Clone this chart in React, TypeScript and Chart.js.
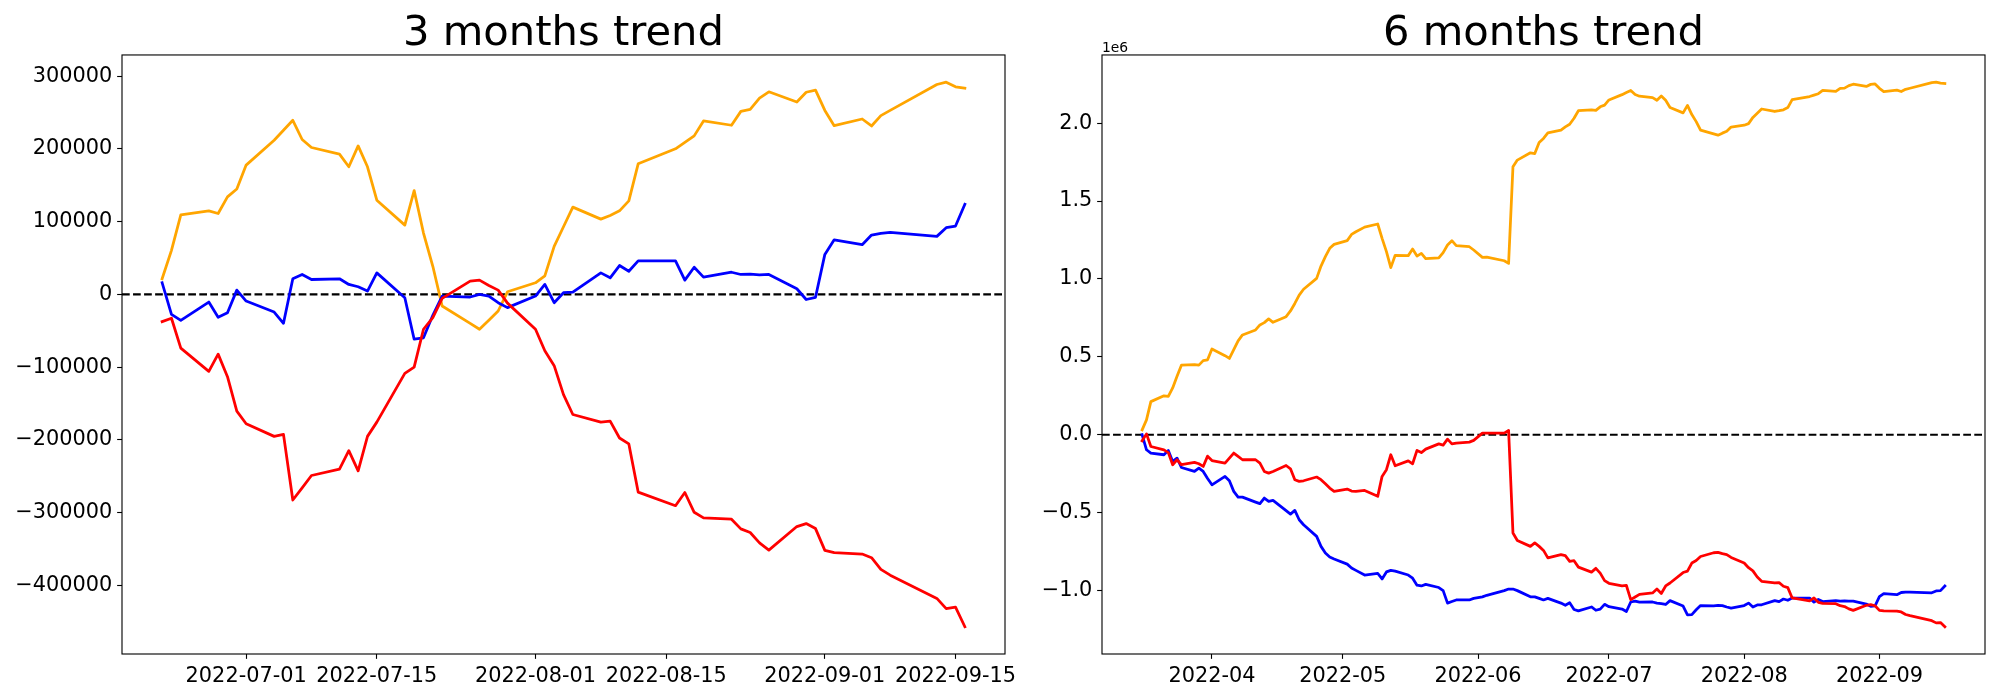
import React, { useEffect, useRef } from 'react';
import { Chart, registerables } from 'chart.js';

Chart.register(...registerables);

const FONT = "'DejaVu Sans', 'Liberation Sans', sans-serif";
const PX = 100 / 72; // pixels per point (figure at 100 dpi)

const ORANGE = '#FFA500';
const BLUE = '#0000FF';
const RED = '#FF0000';

// ---------------- 3 months trend ----------------
const LEFT_DATES = [
  '2022-06-22', '2022-06-23', '2022-06-24', '2022-06-27', '2022-06-28', '2022-06-29', '2022-06-30',
  '2022-07-01', '2022-07-04', '2022-07-05', '2022-07-06', '2022-07-07', '2022-07-08', '2022-07-11',
  '2022-07-12', '2022-07-13', '2022-07-14', '2022-07-15', '2022-07-18', '2022-07-19', '2022-07-20',
  '2022-07-21', '2022-07-22', '2022-07-25', '2022-07-26', '2022-07-27', '2022-07-28', '2022-07-29',
  '2022-08-01', '2022-08-02', '2022-08-03', '2022-08-04', '2022-08-05', '2022-08-08', '2022-08-09',
  '2022-08-10', '2022-08-11', '2022-08-12', '2022-08-16', '2022-08-17', '2022-08-18', '2022-08-19',
  '2022-08-22', '2022-08-23', '2022-08-24', '2022-08-25', '2022-08-26', '2022-08-29', '2022-08-30',
  '2022-08-31', '2022-09-01', '2022-09-02', '2022-09-05', '2022-09-06', '2022-09-07', '2022-09-08',
  '2022-09-13', '2022-09-14', '2022-09-15', '2022-09-16',
];
const LEFT_ORANGE = [
  21500, 60600, 109400, 114900, 111200, 134100, 145000,
  177800, 212000, 225700, 239400, 213000, 202000, 192900, 175500, 204200, 175500, 129500, 95300,
  142700, 84400, 38700, -16000, -39900, -47900, -35400, -22800, 3600,
  16000, 25500, 66000, 93000, 120000, 103500, 108500, 114900, 128600, 179600, 200200, 209000,
  218000, 238500, 232600, 251700, 254400, 270000, 278600, 264500, 278000, 281000,
  253000, 232000, 241200, 231600, 245800, 253100, 288600, 291800, 285500, 283600,
];
const LEFT_BLUE = [
  16000, -27400, -35600, -10500, -31500, -25100, 5900,
  -9100, -24200, -39700, 21500, 27400, 20500, 21500, 13700, 10500, 4600, 29600, -4600,
  -61600, -59700, -28700, -2300, -3600, 0, -2300, -11400, -18200,
  -2300, 13700, -11400, 2300, 3200, 29600, 22800, 39700, 31900, 46100, 46100, 19600,
  37400, 23700, 30500, 27400, 28000, 27000, 27400, 7800, -7000, -4000,
  55000, 75000, 68400, 81600, 83900, 85300, 79800, 91700, 94000, 124000,
];
const LEFT_RED = [
  -37400, -32800, -73900, -105800, -82100, -113100, -160500,
  -177800, -195200, -192400, -282700, -266000, -249000, -240300, -214800, -242600, -195200, -175600, -108500,
  -99900, -47900, -31900, -5500, 18200, 19600, 12300, 5900, -12000,
  -47900, -77500, -98000, -137700, -165100, -175600, -174200, -197400, -205600, -271800, -290500, -272400,
  -299600, -307300, -309100, -322400, -327400, -341600, -351600, -319200, -315100, -322000,
  -352000, -355000, -357000, -362000, -378000, -386000, -418000, -432000, -430000, -457000,
];
const LEFT_X_TICK_DATES = ['2022-07-01', '2022-07-15', '2022-08-01', '2022-08-15', '2022-09-01', '2022-09-15'];
const LEFT_X_TICK_LABELS = ['2022-07-01', '2022-07-15', '2022-08-01', '2022-08-15', '2022-09-01', '2022-09-15'];
const LEFT_Y_TICKS = [-400000, -300000, -200000, -100000, 0, 100000, 200000, 300000];
const LEFT_Y_LABELS = ['\u2212400000', '\u2212300000', '\u2212200000', '\u2212100000', '0', '100000', '200000', '300000'];

// ---------------- 6 months trend (values in units of 1e6) ----------------
const RIGHT_DATES = [
  '2022-03-16', '2022-03-17', '2022-03-18', '2022-03-21', '2022-03-22', '2022-03-23', '2022-03-24',
  '2022-03-25', '2022-03-28', '2022-03-29', '2022-03-30', '2022-03-31',
  '2022-04-01', '2022-04-04', '2022-04-05', '2022-04-06', '2022-04-07', '2022-04-08', '2022-04-11',
  '2022-04-12', '2022-04-13', '2022-04-14', '2022-04-15', '2022-04-18', '2022-04-19', '2022-04-20',
  '2022-04-21', '2022-04-22', '2022-04-25', '2022-04-26', '2022-04-27', '2022-04-28', '2022-04-29',
  '2022-05-02', '2022-05-03', '2022-05-04', '2022-05-06', '2022-05-09', '2022-05-10', '2022-05-11',
  '2022-05-12', '2022-05-13', '2022-05-16', '2022-05-17', '2022-05-18', '2022-05-19', '2022-05-20',
  '2022-05-23', '2022-05-24', '2022-05-25', '2022-05-26', '2022-05-27', '2022-05-30', '2022-05-31',
  '2022-06-02', '2022-06-03', '2022-06-07', '2022-06-08', '2022-06-09', '2022-06-10', '2022-06-13',
  '2022-06-14', '2022-06-15', '2022-06-16', '2022-06-17', '2022-06-20', '2022-06-21',
  ...LEFT_DATES,
];
const RIGHT_ORANGE = [
  0.032, 0.096, 0.213, 0.250, 0.246, 0.301, 0.376, 0.447, 0.451, 0.447, 0.476, 0.481,
  0.551, 0.508, 0.490, 0.547, 0.603, 0.641, 0.673, 0.705, 0.720, 0.744, 0.722, 0.758, 0.795, 0.843,
  0.897, 0.934, 1.004, 1.083, 1.143, 1.197, 1.222,
  1.246, 1.286, 1.303, 1.333, 1.353, 1.261, 1.176, 1.073, 1.152, 1.150, 1.192, 1.147, 1.164, 1.130,
  1.135, 1.169, 1.218, 1.246, 1.214, 1.207, 1.186,
  1.139, 1.141, 1.117, 1.100, 1.720, 1.763, 1.810, 1.805, 1.876, 1.902, 1.938, 1.955, 1.976,
  1.993, 2.032, 2.080, 2.086, 2.082, 2.105, 2.116,
  2.149, 2.183, 2.197, 2.210, 2.184, 2.173, 2.164, 2.147, 2.175, 2.147, 2.101, 2.066, 2.114, 2.055,
  2.010, 1.955, 1.931, 1.923, 1.936, 1.948, 1.975,
  1.987, 1.997, 2.037, 2.064, 2.091, 2.075, 2.080, 2.086, 2.100, 2.151, 2.171, 2.180, 2.189, 2.210,
  2.204, 2.223, 2.225, 2.241, 2.250, 2.236, 2.249, 2.252,
  2.224, 2.203, 2.212, 2.203, 2.217, 2.224, 2.260, 2.263, 2.257, 2.255,
];
const RIGHT_BLUE = [
  0.000, -0.096, -0.118, -0.128, -0.100, -0.171, -0.150, -0.210, -0.235, -0.214, -0.235, -0.280,
  -0.321, -0.267, -0.295, -0.363, -0.400, -0.400, -0.432, -0.442, -0.406, -0.427, -0.421, -0.487,
  -0.509, -0.485, -0.545, -0.577, -0.652, -0.716, -0.758, -0.784, -0.797,
  -0.830, -0.855, -0.870, -0.900, -0.890, -0.925, -0.880, -0.870, -0.875, -0.900, -0.920, -0.965,
  -0.970, -0.960, -0.980, -1.000, -1.080, -1.070, -1.060, -1.060, -1.050,
  -1.040, -1.030, -1.000, -0.990, -0.990, -1.000, -1.040, -1.040, -1.050, -1.060, -1.050, -1.080, -1.094,
  -1.078, -1.121, -1.130, -1.105, -1.126, -1.119, -1.088,
  -1.103, -1.118, -1.134, -1.073, -1.067, -1.074, -1.073, -1.080, -1.084, -1.089, -1.064, -1.099,
  -1.156, -1.154, -1.123, -1.096, -1.098, -1.094, -1.096, -1.105, -1.112,
  -1.096, -1.080, -1.105, -1.092, -1.091, -1.064, -1.071, -1.054, -1.062, -1.048, -1.048, -1.074,
  -1.057, -1.070, -1.064, -1.067, -1.066, -1.067, -1.067, -1.086, -1.101, -1.098,
  -1.039, -1.019, -1.026, -1.012, -1.010, -1.009, -1.014, -1.002, -1.000, -0.970,
];
const RIGHT_RED = [
  -0.038, 0.006, -0.075, -0.097, -0.114, -0.192, -0.160, -0.192, -0.177, -0.186, -0.203, -0.137,
  -0.165, -0.182, -0.150, -0.117, -0.139, -0.160, -0.160, -0.182, -0.235, -0.246, -0.235, -0.197,
  -0.218, -0.288, -0.299, -0.295, -0.271, -0.288, -0.314, -0.342, -0.363,
  -0.348, -0.361, -0.363, -0.357, -0.395, -0.267, -0.224, -0.128, -0.199, -0.167, -0.186, -0.100,
  -0.114, -0.092, -0.058, -0.066, -0.028, -0.058, -0.053, -0.047, -0.036,
  0.011, 0.011, 0.011, 0.028, -0.630, -0.678, -0.716, -0.694, -0.716, -0.742, -0.790, -0.769, -0.776,
  -0.812, -0.808, -0.849, -0.881, -0.857, -0.888, -0.936,
  -0.953, -0.970, -0.967, -1.058, -1.041, -1.024, -1.015, -0.990, -1.018, -0.970, -0.951, -0.884,
  -0.875, -0.823, -0.807, -0.781, -0.757, -0.755, -0.763, -0.769, -0.787,
  -0.823, -0.853, -0.873, -0.913, -0.940, -0.951, -0.949, -0.972, -0.981, -1.047, -1.066, -1.047,
  -1.075, -1.082, -1.084, -1.097, -1.102, -1.117, -1.127, -1.094, -1.090, -1.097,
  -1.127, -1.130, -1.132, -1.137, -1.153, -1.161, -1.193, -1.207, -1.205, -1.232,
];
const RIGHT_X_TICK_DATES = ['2022-04-01', '2022-05-01', '2022-06-01', '2022-07-01', '2022-08-01', '2022-09-01'];
const RIGHT_X_TICK_LABELS = ['2022-04', '2022-05', '2022-06', '2022-07', '2022-08', '2022-09'];
const RIGHT_Y_TICKS = [-1.0, -0.5, 0.0, 0.5, 1.0, 1.5, 2.0];
const RIGHT_Y_LABELS = ['\u22121.0', '\u22120.5', '0.0', '0.5', '1.0', '1.5', '2.0'];

// ---------------- helpers ----------------
const toDay = (s: string) => {
  const [y, m, d] = s.split('-').map(Number);
  return Date.UTC(y, m - 1, d || 1) / 86400000;
};

const withMargin = (vals: number[], m = 0.05): [number, number] => {
  const lo = Math.min(...vals);
  const hi = Math.max(...vals);
  const r = hi - lo;
  return [lo - m * r, hi + m * r];
};

type PanelSpec = {
  title: string;
  dates: string[];
  series: { values: number[]; color: string }[];
  xTickDates: string[];
  xTickLabels: string[];
  yTicks: number[];
  yLabels: string[];
  yAxisWidth: number;
  padRight: number;
  offsetText?: string;
};

function buildConfig(p: PanelSpec): any {
  const xs = p.dates.map(toDay);
  const [xMin, xMax] = withMargin(xs);
  const [yMin, yMax] = withMargin(p.series.flatMap((s) => s.values));

  const datasets: any[] = [
    {
      data: [{ x: xMin, y: 0 }, { x: xMax, y: 0 }],
      borderColor: '#000000',
      borderWidth: 1.5 * PX,
      borderDash: [3.7 * 1.5 * PX, 1.6 * 1.5 * PX],
      pointRadius: 0,
      order: 10,
    },
    ...p.series.map((s, i) => ({
      data: xs.map((x, j) => ({ x, y: s.values[j] })),
      borderColor: s.color,
      borderWidth: 2 * PX,
      pointRadius: 0,
      tension: 0,
      borderJoinStyle: 'round',
      borderCapStyle: 'square',
      order: 9 - i,
    })),
  ];

  const tickFont = { family: FONT, size: 15 * PX };
  const gridOpts = {
    display: true,
    drawOnChartArea: false,
    drawTicks: true,
    tickLength: 3.5 * PX,
    tickWidth: 0.8 * PX,
    tickColor: '#000000',
  };

  const framePlugin = {
    id: 'frame',
    afterDraw(chart: any) {
      const { ctx, chartArea } = chart;
      ctx.save();
      ctx.strokeStyle = '#000000';
      ctx.lineWidth = 0.8 * PX;
      ctx.strokeRect(chartArea.left, chartArea.top, chartArea.right - chartArea.left, chartArea.bottom - chartArea.top);
      if (p.offsetText) {
        ctx.fillStyle = '#000000';
        ctx.font = `${10 * PX}px ${FONT}`;
        ctx.textAlign = 'left';
        ctx.textBaseline = 'alphabetic';
        ctx.fillText(p.offsetText, chartArea.left, chartArea.top - 3.2);
      }
      ctx.restore();
    },
  };

  return {
    type: 'line',
    data: { datasets },
    plugins: [framePlugin],
    options: {
      responsive: false,
      maintainAspectRatio: false,
      animation: false,
      devicePixelRatio: 1,
      parsing: false,
      normalized: true,
      events: [],
      layout: { padding: { left: 0, right: p.padRight, top: 0, bottom: 0 } },
      plugins: {
        legend: { display: false },
        tooltip: { enabled: false },
        title: {
          display: true,
          text: p.title,
          color: '#000000',
          fullSize: false,
          font: { family: FONT, size: 30 * PX, weight: 'normal', lineHeight: 1 },
          padding: { top: 13.3, bottom: 0 },
        },
      },
      scales: {
        x: {
          type: 'linear',
          min: xMin,
          max: xMax,
          bounds: 'data',
          afterBuildTicks: (s: any) => {
            s.ticks = p.xTickDates.map((d) => ({ value: toDay(d) }));
          },
          afterFit: (s: any) => {
            s.height = 46;
            s.paddingLeft = 0;
            s.paddingRight = 0;
          },
          ticks: {
            autoSkip: false,
            maxRotation: 0,
            minRotation: 0,
            color: '#000000',
            font: tickFont,
            padding: 3.5 * PX,
            callback: (_v: any, i: number) => p.xTickLabels[i],
          },
          grid: gridOpts,
          border: { display: false },
        },
        y: {
          type: 'linear',
          min: yMin,
          max: yMax,
          bounds: 'data',
          afterBuildTicks: (s: any) => {
            s.ticks = p.yTicks.map((v) => ({ value: v }));
          },
          afterFit: (s: any) => {
            s.width = p.yAxisWidth;
            s.paddingTop = 0;
            s.paddingBottom = 0;
          },
          ticks: {
            autoSkip: false,
            color: '#000000',
            font: tickFont,
            padding: 3.5 * PX,
            callback: (_v: any, i: number) => p.yLabels[i],
          },
          grid: gridOpts,
          border: { display: false },
        },
      },
    },
  };
}

function Panel({ spec, left, width }: { spec: PanelSpec; left: number; width: number }) {
  const ref = useRef<HTMLCanvasElement | null>(null);
  useEffect(() => {
    if (!ref.current) return;
    const chart = new Chart(ref.current, buildConfig(spec));
    return () => chart.destroy();
  }, [spec]);
  return (
    <canvas
      ref={ref}
      width={width}
      height={700}
      style={{ position: 'absolute', left, top: 0, width, height: 700 }}
    />
  );
}

const LEFT_SPEC: PanelSpec = {
  title: '3 months trend',
  dates: LEFT_DATES,
  series: [
    { values: LEFT_ORANGE, color: ORANGE },
    { values: LEFT_BLUE, color: BLUE },
    { values: LEFT_RED, color: RED },
  ],
  xTickDates: LEFT_X_TICK_DATES,
  xTickLabels: LEFT_X_TICK_LABELS,
  yTicks: LEFT_Y_TICKS,
  yLabels: LEFT_Y_LABELS,
  yAxisWidth: 122,
  padRight: 35,
};

const RIGHT_SPEC: PanelSpec = {
  title: '6 months trend',
  dates: RIGHT_DATES,
  series: [
    { values: RIGHT_ORANGE, color: ORANGE },
    { values: RIGHT_BLUE, color: BLUE },
    { values: RIGHT_RED, color: RED },
  ],
  xTickDates: RIGHT_X_TICK_DATES,
  xTickLabels: RIGHT_X_TICK_LABELS,
  yTicks: RIGHT_Y_TICKS,
  yLabels: RIGHT_Y_LABELS,
  yAxisWidth: 62,
  padRight: 15,
  offsetText: '1e6',
};

export default function App() {
  return (
    <div style={{ position: 'absolute', left: 0, top: 0, width: 2000, height: 700, background: '#ffffff', overflow: 'hidden' }}>
      <Panel spec={LEFT_SPEC} left={0} width={1040} />
      <Panel spec={RIGHT_SPEC} left={1040} width={960} />
    </div>
  );
}
